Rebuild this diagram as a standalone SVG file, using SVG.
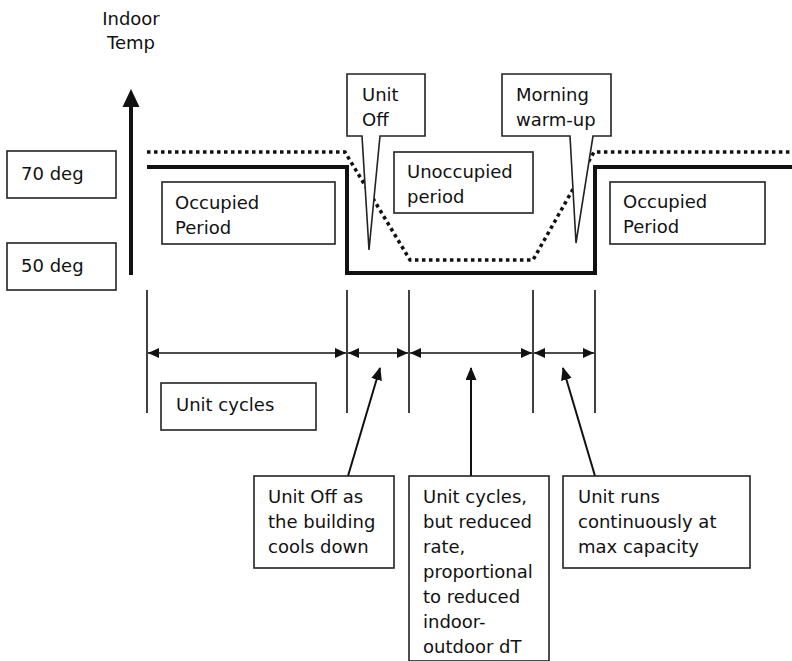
<svg xmlns="http://www.w3.org/2000/svg" width="792" height="661" viewBox="0 0 792 661">
  <style>
    text { font-family: "DejaVu Sans", Verdana, sans-serif; font-size: 18px; fill: #111; }
    .box { fill: #fff; stroke: #222; stroke-width: 1.6; }
    .tick { stroke: #111; stroke-width: 1.6; fill: none; }
    .dim { stroke: #111; stroke-width: 1.6; fill: none; marker-start: url(#dimHead); marker-end: url(#dimHead); }
    .ptr { stroke: #111; stroke-width: 2; fill: none; marker-end: url(#ptrHead); }
    .solid { stroke: #111; stroke-width: 4; fill: none; }
    .dotted { stroke: #111; stroke-width: 3.5; fill: none; stroke-dasharray: 3.5 3.5; }
  </style>
  <defs>
    <marker id="dimHead" markerUnits="userSpaceOnUse" markerWidth="11" markerHeight="10" refX="11" refY="5" orient="auto-start-reverse">
      <path d="M0,0 L11,5 L0,10 Z" fill="#111"/>
    </marker>
    <marker id="ptrHead" markerUnits="userSpaceOnUse" markerWidth="13" markerHeight="11" refX="12" refY="5.5" orient="auto">
      <path d="M0,0 L13,5.5 L0,11 Z" fill="#111"/>
    </marker>
  </defs>

  <!-- axis title -->
  <g id="axis-title">
    <text x="131" y="25" text-anchor="middle">Indoor</text>
    <text x="131" y="49" text-anchor="middle">Temp</text>
  </g>

  <!-- vertical temperature axis -->
  <g id="axis">
    <line x1="131" y1="275" x2="131" y2="104" stroke="#111" stroke-width="4"/>
    <path d="M122.5,107 L131,89 L139.5,107 Z" fill="#111"/>
  </g>

  <g id="label-70">
    <rect class="box" x="7" y="151" width="109" height="47"/>
    <text x="21" y="180">70 deg</text>
  </g>
  <g id="label-50">
    <rect class="box" x="7" y="243" width="109" height="47"/>
    <text x="21" y="272">50 deg</text>
  </g>

  <!-- temperature traces -->
  <g id="traces">
    <path class="dotted" d="M147,152 H345 L410,260 H533 L594,152 H792"/>
    <path class="solid" d="M147,167 H347 V273 H595 V167 H792"/>
  </g>

  <g id="occupied-left">
    <rect class="box" x="162" y="182" width="173" height="62"/>
    <text x="175" y="209">Occupied</text>
    <text x="175" y="234">Period</text>
  </g>

  <g id="unoccupied">
    <rect class="box" x="394" y="152" width="139" height="61"/>
    <text x="407" y="178">Unoccupied</text>
    <text x="407" y="203">period</text>
  </g>

  <g id="occupied-right">
    <rect class="box" x="610" y="182" width="155" height="62"/>
    <text x="623" y="208">Occupied</text>
    <text x="623" y="233">Period</text>
  </g>

  <!-- callouts with pointed tails -->
  <g id="callout-unit-off">
    <path class="box" d="M347,74 H425 V136 H380 L369,250 L362,136 H347 Z"/>
    <text x="362" y="101">Unit</text>
    <text x="362" y="126">Off</text>
  </g>
  <g id="callout-warm-up">
    <path class="box" d="M502,74 H611 V136 H593 L576,243 L570,136 H502 Z"/>
    <text x="516" y="101">Morning</text>
    <text x="516" y="126">warm-up</text>
  </g>

  <!-- period boundaries, span arrows and pointers -->
  <g id="connectors">
    <line class="tick" x1="147" y1="290" x2="147" y2="413"/>
    <line class="tick" x1="347" y1="290" x2="347" y2="413"/>
    <line class="tick" x1="409" y1="290" x2="409" y2="413"/>
    <line class="tick" x1="533" y1="290" x2="533" y2="413"/>
    <line class="tick" x1="595" y1="290" x2="595" y2="413"/>

    <line class="dim" x1="148" y1="353" x2="346" y2="353"/>
    <line class="dim" x1="348" y1="353" x2="408" y2="353"/>
    <line class="dim" x1="410" y1="353" x2="532" y2="353"/>
    <line class="dim" x1="534" y1="353" x2="594" y2="353"/>

    <line class="ptr" x1="348" y1="476" x2="380" y2="368"/>
    <line class="ptr" x1="471" y1="476" x2="471" y2="368"/>
    <line class="ptr" x1="595" y1="476" x2="563" y2="368"/>
  </g>

  <g id="unit-cycles">
    <rect class="box" x="161" y="383" width="155" height="47"/>
    <text x="176" y="411">Unit cycles</text>
  </g>

  <g id="note-off">
    <rect class="box" x="254" y="476" width="140" height="92"/>
    <text x="268" y="503">Unit Off as</text>
    <text x="268" y="528">the building</text>
    <text x="268" y="553">cools down</text>
  </g>

  <g id="note-reduced">
    <rect class="box" x="409" y="476" width="140" height="185"/>
    <text x="423" y="503">Unit cycles,</text>
    <text x="423" y="528">but reduced</text>
    <text x="423" y="553">rate,</text>
    <text x="423" y="578">proportional</text>
    <text x="423" y="603">to reduced</text>
    <text x="423" y="628">indoor-</text>
    <text x="423" y="653">outdoor dT</text>
  </g>

  <g id="note-max">
    <rect class="box" x="563" y="476" width="187" height="92"/>
    <text x="578" y="503">Unit runs</text>
    <text x="578" y="528">continuously at</text>
    <text x="578" y="553">max capacity</text>
  </g>
</svg>
